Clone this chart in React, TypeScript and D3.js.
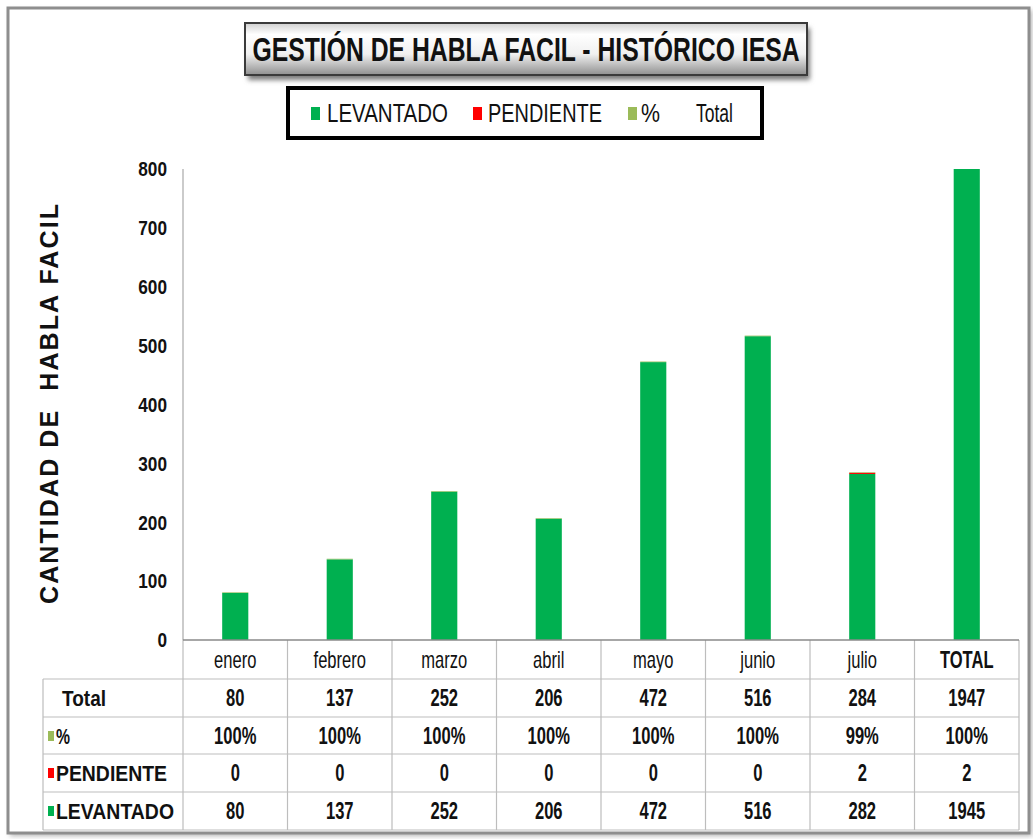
import React from "react";
import * as d3 from "d3";

const categories = ["enero", "febrero", "marzo", "abril", "mayo", "junio", "julio", "TOTAL"];
const totalValues = [80, 137, 252, 206, 472, 516, 284, 1947];
const pctValues = [1, 1, 1, 1, 1, 1, 0.99, 1];
const pendienteValues = [0, 0, 0, 0, 0, 0, 2, 2];
const levantadoValues = [80, 137, 252, 206, 472, 516, 282, 1945];
const yTicks = [0, 100, 200, 300, 400, 500, 600, 700, 800];

const W = 1033;
const H = 839;
const ARIAL = "'Liberation Sans', Arial, sans-serif";

const GREEN = "#00B050";
const RED = "#FF0000";
const LIGHTGREEN = "#9BBB59";

function NText(props: {
  x: number;
  y: number;
  sx?: number;
  anchor?: string;
  size: number;
  weight?: string;
  dy?: string;
  children: React.ReactNode;
}) {
  const { x, y, sx = 0.75, anchor = "start", size, weight = "normal", dy, children } = props;
  return (
    <text
      transform={`translate(${x},${y}) scale(${sx},1)`}
      textAnchor={anchor}
      fontSize={size}
      fontWeight={weight}
      dy={dy}
    >
      {children}
    </text>
  );
}

export default function App() {
  const plotLeft = 183;
  const plotRight = 1019;
  const plotTop = 169;
  const plotBottom = 640;

  const x = d3
    .scaleBand<string>()
    .domain(categories)
    .range([plotLeft, plotRight])
    .paddingInner(0.75)
    .paddingOuter(0.375);
  const step = x.step();
  const y = d3.scaleLinear().domain([0, 800]).range([plotBottom, plotTop]);

  const stackData = categories.map((c, i) => ({
    cat: c,
    lev: levantadoValues[i],
    pen: pendienteValues[i],
    pct: pctValues[i],
  }));
  const stack = d3.stack<any>().keys(["lev", "pen", "pct"]);
  const series = stack(stackData);
  const colors: Record<string, string> = { lev: GREEN, pen: RED, pct: LIGHTGREEN };

  const headerTop = plotBottom;
  const rowsTop = 679;
  const rowLines = [rowsTop, 717, 754, 792, 830];
  const tableLeft = 43;
  const rowCenters = [698, 736, 773, 811];
  const fmtPct = d3.format(".0%");

  const rows = [
    { label: "Total", color: null as string | null, values: totalValues.map(String), len: 44 },
    { label: "%", color: LIGHTGREEN, values: pctValues.map((v) => fmtPct(v)), len: 14 },
    { label: "PENDIENTE", color: RED, values: pendienteValues.map(String), len: 111 },
    { label: "LEVANTADO", color: GREEN, values: levantadoValues.map(String), len: 118 },
  ];

  const gridColor = "#bdbdbd";
  const cx = (c: string) => (x(c) as number) + x.bandwidth() / 2;

  return (
    <svg
      width={W}
      height={H}
      viewBox={`0 0 ${W} ${H}`}
      style={{ position: "absolute", left: 0, top: 0, background: "#fff" }}
    >
      <defs>
        <filter id="blur" x="-10%" y="-10%" width="120%" height="130%">
          <feGaussianBlur stdDeviation="2.5" />
        </filter>
        <linearGradient id="titleGrad" x1="0" y1="0" x2="0" y2="1">
          <stop offset="0%" stopColor="#cfcfcf" />
          <stop offset="22%" stopColor="#ffffff" />
          <stop offset="60%" stopColor="#f0f0f0" />
          <stop offset="100%" stopColor="#8f8f8f" />
        </linearGradient>
        <clipPath id="plotClip">
          <rect x={plotLeft} y={plotTop} width={plotRight - plotLeft} height={plotBottom - plotTop} />
        </clipPath>
      </defs>

      {/* outer frame */}
      <rect x={10} y={10} width={1022} height={826} fill="#b5b5b5" filter="url(#blur)" />
      <rect x={8} y={8} width={1021} height={825} fill="#ffffff" stroke="#8e8e8e" strokeWidth={3} />

      {/* title */}
      <rect x={248} y={28} width={562} height={52} fill="#7a7a7a" filter="url(#blur)" />
      <rect x={245} y={23} width={562} height={52} fill="url(#titleGrad)" stroke="#3a3a3a" strokeWidth={2} />
      <text
        x={526}
        y={61}
        textAnchor="middle"
        fontFamily={ARIAL}
        fontWeight="bold"
        fontSize={33}
        fill="#111"
        textLength={547}
        lengthAdjust="spacingAndGlyphs"
      >
        GESTIÓN DE HABLA FACIL - HISTÓRICO IESA
      </text>

      {/* legend */}
      <rect x={288} y={88} width={474} height={50} fill="#fff" stroke="#000" strokeWidth={4} />
      <g fontFamily={ARIAL} fontSize={26} fill="#111">
        <rect x={311} y={107} width={9} height={13} fill={GREEN} />
        <text x={327} y={122} textLength={121} lengthAdjust="spacingAndGlyphs">LEVANTADO</text>
        <rect x={473} y={107} width={9} height={13} fill={RED} />
        <text x={488} y={122} textLength={114} lengthAdjust="spacingAndGlyphs">PENDIENTE</text>
        <rect x={628} y={107} width={9} height={13} fill={LIGHTGREEN} />
        <text x={641} y={122} textLength={19} lengthAdjust="spacingAndGlyphs">%</text>
        <text x={696} y={122} textLength={37} lengthAdjust="spacingAndGlyphs">Total</text>
      </g>

      {/* y-axis title */}
      <text
        transform={`translate(58,404) rotate(-90)`}
        textAnchor="middle"
        fontFamily={ARIAL}
        fontWeight="bold"
        fontSize={25}
        fill="#111"
        textLength={400}
        lengthAdjust="spacing"
        style={{ whiteSpace: "pre" }}
      >
        {"CANTIDAD DE  HABLA FACIL"}
      </text>

      {/* y ticks */}
      <g fontFamily={ARIAL} fill="#111">
        {yTicks.map((t) => (
          <NText key={t} x={167} y={y(t)} dy="0.35em" anchor="end" size={21} weight="bold" sx={0.82}>
            {t}
          </NText>
        ))}
      </g>

      {/* bars */}
      <g clipPath="url(#plotClip)">
        {series.map((s) =>
          s.map((d, i) => (
            <rect
              key={s.key + i}
              x={x(categories[i])}
              width={x.bandwidth()}
              y={y(d[1])}
              height={Math.max(0, y(d[0]) - y(d[1]))}
              fill={colors[s.key]}
            />
          ))
        )}
      </g>

      {/* data table grid */}
      <g stroke={gridColor} strokeWidth={1.2} fill="none">
        {rowLines.map((ly) => (
          <line key={ly} x1={tableLeft} x2={plotRight} y1={ly} y2={ly} />
        ))}
        <line x1={tableLeft} x2={tableLeft} y1={rowsTop} y2={rowLines[4]} />
        {categories.map((c, i) => (
          <line key={c} x1={plotLeft + step * (i + 1)} x2={plotLeft + step * (i + 1)} y1={headerTop} y2={rowLines[4]} />
        ))}
        <line x1={plotLeft} x2={plotLeft} y1={plotBottom} y2={rowLines[4]} />
      </g>
      {/* axes */}
      <line x1={plotLeft} x2={plotLeft} y1={plotTop} y2={plotBottom} stroke="#a8a8a8" strokeWidth={1.2} />
      <line x1={plotLeft} x2={plotRight} y1={plotBottom} y2={plotBottom} stroke="#8a8a8a" strokeWidth={1.4} />

      {/* header row */}
      <g fontFamily={ARIAL} fill="#111">
        {categories.map((c) => (
          <NText
            key={c}
            x={cx(c)}
            y={660}
            dy="0.35em"
            anchor="middle"
            size={23}
            sx={0.72}
            weight={c === "TOTAL" ? "bold" : "normal"}
          >
            {c}
          </NText>
        ))}
      </g>

      {/* table rows */}
      <g fontFamily={ARIAL} fill="#111">
        {rows.map((r, ri) => (
          <g key={r.label}>
            {r.color ? (
              <>
                <rect x={48} y={rowCenters[ri] - 5} width={6} height={10} fill={r.color} />
                <text
                  x={56}
                  y={rowCenters[ri]}
                  dy="0.35em"
                  fontSize={22}
                  fontWeight="bold"
                  textLength={r.len}
                  lengthAdjust="spacingAndGlyphs"
                >
                  {r.label}
                </text>
              </>
            ) : (
              <text
                x={62}
                y={rowCenters[ri]}
                dy="0.35em"
                fontSize={22}
                fontWeight="bold"
                textLength={r.len}
                lengthAdjust="spacingAndGlyphs"
              >
                {r.label}
              </text>
            )}
            {r.values.map((v, i) => (
              <NText
                key={i}
                x={cx(categories[i])}
                y={rowCenters[ri]}
                dy="0.35em"
                anchor="middle"
                size={23}
                sx={0.72}
                weight="bold"
              >
                {v}
              </NText>
            ))}
          </g>
        ))}
      </g>
    </svg>
  );
}
